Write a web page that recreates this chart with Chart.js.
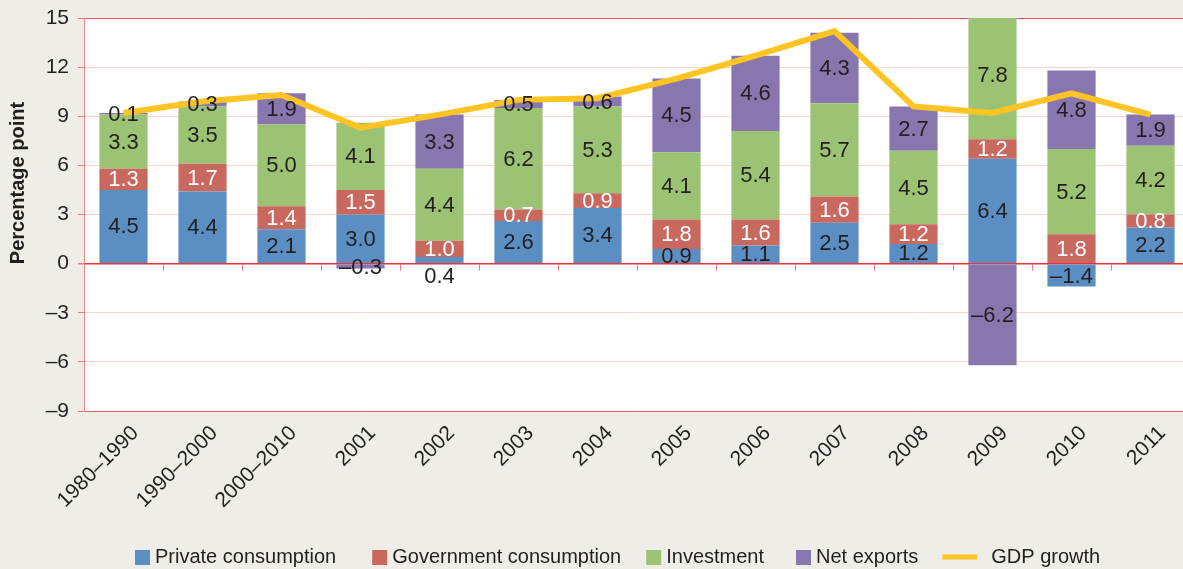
<!DOCTYPE html>
<html>
<head>
<meta charset="utf-8">
<script src="https://cdn.jsdelivr.net/npm/chart.js@4.4.1/dist/chart.umd.min.js"></script>
<style>
  html, body { margin: 0; padding: 0; background: #efede8; overflow: hidden; }
  #wrap { width: 1192px; height: 569px; position: relative; }
</style>
</head>
<body>
<div id="wrap"><canvas id="chart"></canvas></div>
<script>
// Dados do gráfico
const categories = ['1980–1990', '1990–2000', '2000–2010', '2001', '2002', '2003', '2004',
  '2005', '2006', '2007', '2008', '2009', '2010', '2011'];
const privateConsumption = [4.5, 4.4, 2.1, 3.0, 0.4, 2.6, 3.4, 0.9, 1.1, 2.5, 1.2, 6.4, -1.4, 2.2];
const governmentConsumption = [1.3, 1.7, 1.4, 1.5, 1.0, 0.7, 0.9, 1.8, 1.6, 1.6, 1.2, 1.2, 1.8, 0.8];
const investment = [3.3, 3.5, 5.0, 4.1, 4.4, 6.2, 5.3, 4.1, 5.4, 5.7, 4.5, 7.8, 5.2, 4.2];
const netExports = [0.1, 0.3, 1.9, -0.3, 3.3, 0.5, 0.6, 4.5, 4.6, 4.3, 2.7, -6.2, 4.8, 1.9];
const gdpGrowth = [9.2, 9.9, 10.3, 8.3, 9.1, 10.0, 10.1, 11.3, 12.7, 14.2, 9.6, 9.2, 10.4, 9.1];
const yTicks = [-9, -6, -3, 0, 3, 6, 9, 12, 15];

const FONT = '"Liberation Sans", Arial, sans-serif';
const TEXT = '#231f20';
// espaço depois de cada item da legenda
const legendGaps = [36, 25, 32, 24, 0];

function fmt(v) {
  return v < 0 ? '–' + Math.abs(v).toFixed(1) : v.toFixed(1);
}

// Fundo branco da área do gráfico
const plotBg = {
  id: 'plotBg',
  beforeDraw(chart) {
    const a = chart.chartArea, ctx = chart.ctx;
    ctx.save();
    ctx.fillStyle = '#ffffff';
    ctx.fillRect(a.left, a.top, a.right - a.left, a.bottom - a.top);
    ctx.restore();
  }
};

// Marcas do eixo x na linha do zero
const zeroTicks = {
  id: 'zeroTicks',
  afterDraw(chart) {
    const xs = chart.scales.x, ys = chart.scales.y, ctx = chart.ctx;
    const y0 = ys.getPixelForValue(0);
    ctx.save();
    ctx.strokeStyle = '#ef7a7d';
    ctx.lineWidth = 1;
    for (let k = 1; k < categories.length; k++) {
      const x = Math.round((xs.getPixelForValue(k - 1) + xs.getPixelForValue(k)) / 2) + 0.5;
      ctx.beginPath();
      ctx.moveTo(x, y0);
      ctx.lineTo(x, y0 + 7);
      ctx.stroke();
    }
    ctx.restore();
  }
};

// Rótulos de valores nas barras
const barLabels = {
  id: 'barLabels',
  afterDatasetsDraw(chart) {
    const ctx = chart.ctx;
    ctx.save();
    ctx.font = '22px ' + FONT;
    ctx.textAlign = 'center';
    ctx.textBaseline = 'middle';
    chart.data.datasets.forEach((ds, i) => {
      if (ds.type === 'line') return;
      const meta = chart.getDatasetMeta(i);
      meta.data.forEach((el, j) => {
        const p = el.getProps(['x', 'y', 'base'], true);
        let cy = (p.y + p.base) / 2;
        // segmento muito pequeno na base: rótulo abaixo
        if (i === 0 && ds.data[j] > 0 && Math.abs(p.base - p.y) < 10) cy = p.base + 13;
        ctx.fillStyle = ds.labelColor;
        ctx.fillText(fmt(ds.data[j]), p.x, cy + 1);
      });
    });
    ctx.restore();
  }
};

// Título do eixo y e legenda
const extras = {
  id: 'extras',
  afterDraw(chart) {
    const ctx = chart.ctx;
    ctx.save();
    ctx.fillStyle = TEXT;
    ctx.font = 'bold 20px ' + FONT;
    ctx.translate(18, 183);
    ctx.rotate(-Math.PI / 2);
    ctx.textAlign = 'center';
    ctx.textBaseline = 'middle';
    ctx.fillText('Percentage point', 0, 0);
    ctx.restore();

    ctx.save();
    ctx.font = '20px ' + FONT;
    ctx.textBaseline = 'middle';
    let x = 135;
    const y = 557;
    chart.data.datasets.forEach((ds, i) => {
      if (ds.type === 'line') {
        ctx.strokeStyle = ds.borderColor;
        ctx.lineWidth = 5;
        ctx.beginPath();
        ctx.moveTo(x, y);
        ctx.lineTo(x + 35, y);
        ctx.stroke();
        x += 49;
      } else {
        ctx.fillStyle = ds.backgroundColor;
        ctx.fillRect(x, y - 7, 15, 15);
        x += 20;
      }
      ctx.fillStyle = TEXT;
      ctx.fillText(ds.label, x, y);
      x += ctx.measureText(ds.label).width + legendGaps[i];
    });
    ctx.restore();
  }
};

function barSet(label, data, color, labelColor) {
  return {
    type: 'bar',
    label: label,
    data: data,
    backgroundColor: color,
    labelColor: labelColor,
    stack: 's',
    order: 1,
    categoryPercentage: 1,
    barPercentage: 0.61
  };
}

const ctx = document.getElementById('chart').getContext('2d');
new Chart(ctx, {
  data: {
    labels: categories,
    datasets: [
      barSet('Private consumption', privateConsumption, '#5b8fc4', TEXT),
      barSet('Government consumption', governmentConsumption, '#c9685f', '#ffffff'),
      barSet('Investment', investment, '#9cc274', TEXT),
      barSet('Net exports', netExports, '#8877ae', TEXT),
      {
        type: 'line',
        label: 'GDP growth',
        data: gdpGrowth,
        borderColor: '#fdc424',
        backgroundColor: '#fdc424',
        borderWidth: 6,
        pointRadius: 0,
        tension: 0,
        order: 0
      }
    ]
  },
  options: {
    responsive: true,
    maintainAspectRatio: false,
    animation: false,
    layout: { padding: { top: 18, right: 2, left: 0, bottom: 0 } },
    plugins: {
      legend: { display: false },
      tooltip: { enabled: false }
    },
    scales: {
      x: {
        stacked: true,
        grid: { display: false, drawTicks: false },
        border: { display: false },
        ticks: {
          color: TEXT,
          font: { family: FONT, size: 21 },
          minRotation: 45,
          maxRotation: 45,
          labelOffset: 12,
          padding: 10
        },
        afterFit(scale) { scale.height = 158; }
      },
      y: {
        stacked: true,
        min: -9,
        max: 15,
        afterBuildTicks(scale) { scale.ticks = yTicks.map(v => ({ value: v })); },
        grid: {
          color: c => {
            const v = c.tick && c.tick.value;
            if (v === 0) return '#e8343a';
            if (v === 15 || v === -9) return '#ef5a5f';
            return '#fbd6cc';
          },
          lineWidth: c => (c.tick && c.tick.value === 0 ? 1.5 : 1),
          tickLength: 6,
          tickColor: '#ef7a7d'
        },
        border: { color: '#f08486' },
        ticks: {
          color: TEXT,
          font: { family: FONT, size: 21 },
          padding: 9,
          callback: v => (v < 0 ? '–' + Math.abs(v) : String(v))
        },
        afterFit(scale) {
          scale.width = 84;
          scale.paddingTop = 0;
          scale.paddingBottom = 0;
        }
      }
    }
  },
  plugins: [plotBg, zeroTicks, barLabels, extras]
});
</script>
</body>
</html>
